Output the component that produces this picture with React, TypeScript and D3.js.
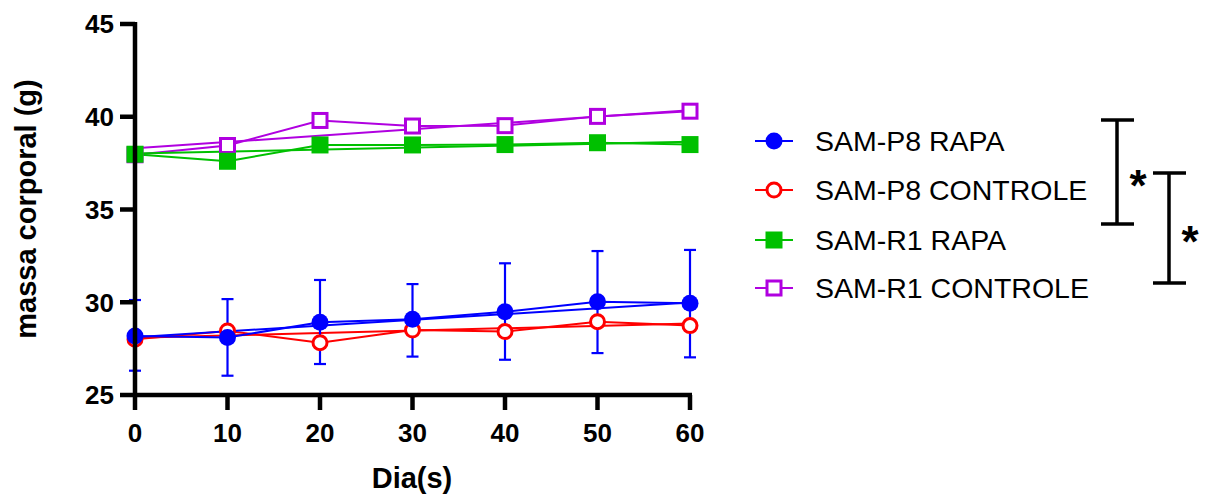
import React from "react";
import * as d3 from "d3";

const days = [0, 10, 20, 30, 40, 50, 60];
const p8Rapa = [28.18, 28.1, 28.92, 29.08, 29.49, 30.03, 29.94];
const p8RapaHi = [30.12, 30.17, 31.2, 30.98, 32.1, 32.76, 32.82];
const p8RapaLo = [26.31, 26.04, 26.67, 27.07, 26.9, 27.26, 27.03];
const p8Ctrl = [28.0, 28.45, 27.82, 28.5, 28.42, 28.95, 28.74];
const r1Rapa = [37.98, 37.6, 38.48, 38.48, 38.5, 38.6, 38.5];
const r1Ctrl = [37.95, 38.45, 39.8, 39.5, 39.52, 40.02, 40.3];
// trend line values at day 0 and day 60
const trendDays = [0, 60];
const p8RapaTrend = [28.12, 29.98];
const p8CtrlTrend = [28.08, 28.86];
const r1RapaTrend = [38.02, 38.65];
const r1CtrlTrend = [38.3, 40.35];

const seriesNames = ["SAM-P8 RAPA", "SAM-P8 CONTROLE", "SAM-R1 RAPA", "SAM-R1 CONTROLE"];
const colors = ["#0000ff", "#ff0000", "#00c000", "#b000e0"];
const markers = ["circleFilled", "circleOpen", "squareFilled", "squareOpen"];
const yTicks = [25, 30, 35, 40, 45];
const xTicks = [0, 10, 20, 30, 40, 50, 60];

const FONT = "'Liberation Sans', Arial, Helvetica, sans-serif";

function Marker({ kind, cx, cy, color }: { kind: string; cx: number; cy: number; color: string }) {
  if (kind === "circleFilled") return <circle cx={cx} cy={cy} r={8.5} fill={color} />;
  if (kind === "circleOpen") return <circle cx={cx} cy={cy} r={7} fill="white" stroke={color} strokeWidth={3} />;
  if (kind === "squareFilled") return <rect x={cx - 8.5} y={cy - 8.5} width={17} height={17} fill={color} />;
  return <rect x={cx - 7} y={cy - 7} width={14} height={14} fill="white" stroke={color} strokeWidth={3} />;
}

export default function App() {
  const W = 1209, H = 494;
  const x = d3.scaleLinear().domain([0, 60]).range([135, 690]);
  const y = d3.scaleLinear().domain([25, 45]).range([395, 24]);
  const line = d3.line<[number, number]>().x((d) => x(d[0])).y((d) => y(d[1]));

  const data = [p8Rapa, p8Ctrl, r1Rapa, r1Ctrl];
  const trends = [p8RapaTrend, p8CtrlTrend, r1RapaTrend, r1CtrlTrend];
  const drawOrder = [3, 2, 1, 0];

  const legendY = [141, 190, 240, 288];

  return (
    <svg width={W} height={H} style={{ position: "absolute", left: 0, top: 0 }} fontFamily={FONT}>
      <rect width={W} height={H} fill="white" />
      {drawOrder.map((i) => (
        <g key={"s" + i}>
          <path d={line(trendDays.map((d, k) => [d, trends[i][k]]) as [number, number][]) || ""} fill="none" stroke={colors[i]} strokeWidth={2} />
          <path d={line(days.map((d, k) => [d, data[i][k]]) as [number, number][]) || ""} fill="none" stroke={colors[i]} strokeWidth={2} />
        </g>
      ))}
      {days.map((d, k) => (
        <g key={"e" + k} stroke={colors[0]} strokeWidth={2.2}>
          <line x1={x(d)} x2={x(d)} y1={y(p8RapaHi[k])} y2={y(p8RapaLo[k])} />
          <line x1={x(d) - 6} x2={x(d) + 6} y1={y(p8RapaHi[k])} y2={y(p8RapaHi[k])} />
          <line x1={x(d) - 6} x2={x(d) + 6} y1={y(p8RapaLo[k])} y2={y(p8RapaLo[k])} />
        </g>
      ))}
      {drawOrder.map((i) => (
        <g key={"m" + i}>
          {days.map((d, k) => (
            <Marker key={k} kind={markers[i]} cx={x(d)} cy={y(data[i][k])} color={colors[i]} />
          ))}
        </g>
      ))}
      <g stroke="black" strokeWidth={4.5}>
        <line x1={135} x2={135} y1={y(45) - 2} y2={397} />
        <line x1={133} x2={692} y1={395} y2={395} />
        {yTicks.map((t) => (
          <line key={"yt" + t} x1={120} x2={135} y1={y(t)} y2={y(t)} />
        ))}
        {xTicks.map((t) => (
          <line key={"xt" + t} x1={x(t)} x2={x(t)} y1={395} y2={410} />
        ))}
      </g>
      {yTicks.map((t) => (
        <text key={"yl" + t} x={114} y={y(t)} dy="0.36em" textAnchor="end" fontSize={26} fontWeight="bold">
          {t}
        </text>
      ))}
      {xTicks.map((t) => (
        <text key={"xl" + t} x={x(t)} y={442} textAnchor="middle" fontSize={26} fontWeight="bold">
          {t}
        </text>
      ))}
      <text x={412} y={488} textAnchor="middle" fontSize={29} fontWeight="bold">Dia(s)</text>
      <text transform={`translate(36,209) rotate(-90)`} textAnchor="middle" fontSize={29} fontWeight="bold">
        massa corporal (g)
      </text>
      {seriesNames.map((n, i) => (
        <g key={"l" + i}>
          <line x1={755} x2={793} y1={legendY[i]} y2={legendY[i]} stroke={colors[i]} strokeWidth={2} />
          <Marker kind={markers[i]} cx={774} cy={legendY[i]} color={colors[i]} />
          <text x={815} y={legendY[i]} dy="0.36em" fontSize={28.5}>{n}</text>
        </g>
      ))}
      <g stroke="black" strokeWidth={3.5}>
        <line x1={1117} x2={1117} y1={120} y2={224} />
        <line x1={1101} x2={1134} y1={120} y2={120} />
        <line x1={1101} x2={1134} y1={224} y2={224} />
        <line x1={1169} x2={1169} y1={173} y2={283} />
        <line x1={1153} x2={1186} y1={173} y2={173} />
        <line x1={1153} x2={1186} y1={283} y2={283} />
      </g>
      <text x={1138} y={201} textAnchor="middle" fontSize={44} fontWeight="bold">*</text>
      <text x={1190} y={257} textAnchor="middle" fontSize={44} fontWeight="bold">*</text>
    </svg>
  );
}
